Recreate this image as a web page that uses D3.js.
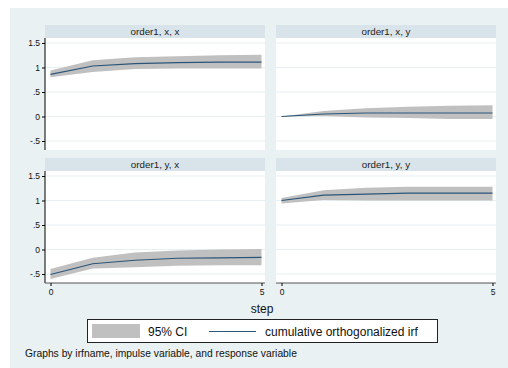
<!DOCTYPE html>
<html><head><meta charset="utf-8">
<script src="https://cdn.jsdelivr.net/npm/d3@7"></script>
<style>body{margin:0;background:#fff}svg{display:block;font-family:"Liberation Sans",Arial,sans-serif}</style>
</head><body><svg id="c" width="508" height="368"></svg>
<script>
const steps=[0,1,2,3,4,5];
const panelTitles=["order1, x, x","order1, x, y","order1, y, x","order1, y, y"];
const irfXX=[0.86,1.03,1.08,1.10,1.11,1.11];
const loXX=[0.80,0.91,0.97,0.98,0.98,0.98];
const hiXX=[0.94,1.15,1.21,1.23,1.25,1.26];
const irfXY=[0,0.05,0.07,0.07,0.07,0.07];
const loXY=[0,0.01,-0.02,-0.03,-0.05,-0.05];
const hiXY=[0,0.11,0.17,0.20,0.22,0.23];
const irfYX=[-0.51,-0.29,-0.22,-0.18,-0.17,-0.16];
const loYX=[-0.60,-0.39,-0.36,-0.33,-0.32,-0.32];
const hiYX=[-0.40,-0.17,-0.06,-0.02,0.0,0.01];
const irfYY=[1.0,1.11,1.13,1.15,1.15,1.15];
const loYY=[0.94,1.01,1.0,1.0,1.0,1.0];
const hiYY=[1.05,1.21,1.26,1.28,1.28,1.28];
const yTicks=[-0.5,0,0.5,1,1.5];
const yTickLabels=["-.5","0",".5","1","1.5"];
const xTicks=[0,5];
const legendLabels=["95% CI","cumulative orthogonalized irf"];
const xTitle="step";
const note="Graphs by irfname, impulse variable, and response variable";

const series=[[irfXX,loXX,hiXX],[irfXY,loXY,hiXY],[irfYX,loYX,hiYX],[irfYY,loYY,hiYY]];
const svg=d3.select("#c");
const BG="#eaf1f3", STRIP="#d8e4e9", GRID="#e8eff2", BAND="#c0c0c0", LINE="#2a5478";
svg.append("rect").attr("x",10).attr("y",8).attr("width",498).attr("height",360).attr("fill",BG);

const lefts=[45,276], tops=[25,158], W=220, HH=13, PH=112;
series.forEach((s,i)=>{
  const col=i%2,row=Math.floor(i/2);
  const L=lefts[col],T=tops[row],PT=T+HH;
  const x=d3.scaleLinear().domain([0,5]).range([L+5.5,L+W-3.5]);
  const y=d3.scaleLinear().domain([-0.5,1.5]).range([PT+103,PT+5]);
  const g=svg.append("g");
  g.append("rect").attr("x",L).attr("y",T).attr("width",W).attr("height",HH).attr("fill",STRIP);
  g.append("text").attr("x",L+W/2).attr("y",T+HH/2+3.3).attr("text-anchor","middle")
    .attr("font-size",9.8).attr("fill","#222").text(panelTitles[i]);
  g.append("rect").attr("x",L).attr("y",PT).attr("width",W).attr("height",PH).attr("fill","#fff");
  g.selectAll("line.grid").data(yTicks).join("line").attr("class","grid")
    .attr("x1",L).attr("x2",L+W).attr("y1",d=>y(d)).attr("y2",d=>y(d))
    .attr("stroke",GRID).attr("stroke-width",1);
  const [irf,lo,hi]=s;
  g.append("path").datum(steps).attr("fill",BAND)
    .attr("d",d3.area().x(d=>x(d)).y0((d,j)=>y(lo[j])).y1((d,j)=>y(hi[j])));
  g.append("path").datum(steps).attr("fill","none").attr("stroke",LINE).attr("stroke-width",1.1)
    .attr("d",d3.line().x(d=>x(d)).y((d,j)=>y(irf[j])));
  if(col===0){
    const ax=g.append("g").attr("transform",`translate(${L},0)`)
      .call(d3.axisLeft(y).tickValues(yTicks).tickFormat((d,j)=>yTickLabels[j]).tickSize(3).tickPadding(2));
    ax.select(".domain").attr("d",`M0,${PT}V${PT+PH}`).attr("stroke","#000");
    ax.selectAll("text").attr("font-size",8.5).attr("fill","#111").attr("font-family","Liberation Sans, Arial, sans-serif");
  }
  if(row===1){
    const ax=g.append("g").attr("transform",`translate(0,${PT+PH})`)
      .call(d3.axisBottom(x).tickValues(xTicks).tickFormat(d3.format("d")).tickSize(3).tickPadding(3));
    ax.select(".domain").attr("d",`M${L},0H${L+W}`).attr("stroke","#555");
    ax.selectAll("text").attr("font-size",8.5).attr("fill","#111").attr("font-family","Liberation Sans, Arial, sans-serif");
  }
});
svg.append("text").attr("x",262).attr("y",313).attr("text-anchor","middle").attr("font-size",12).attr("fill","#111").text(xTitle);
// legend
const lg=svg.append("g");
lg.append("rect").attr("x",87.5).attr("y",319.5).attr("width",350).attr("height",23).attr("fill","#fff").attr("stroke","#222").attr("stroke-width",1);
lg.append("rect").attr("x",92).attr("y",324).attr("width",48).attr("height",14).attr("fill",BAND);
lg.append("text").attr("x",148).attr("y",335.5).attr("font-size",12).attr("fill","#111").text(legendLabels[0]);
lg.append("line").attr("x1",209).attr("x2",256).attr("y1",331.5).attr("y2",331.5).attr("stroke",LINE).attr("stroke-width",1.1);
lg.append("text").attr("x",265).attr("y",335.5).attr("font-size",12).attr("fill","#111").text(legendLabels[1]);
svg.append("text").attr("x",25).attr("y",356.5).attr("font-size",10.3).attr("fill","#111").text(note);
</script></body></html>
